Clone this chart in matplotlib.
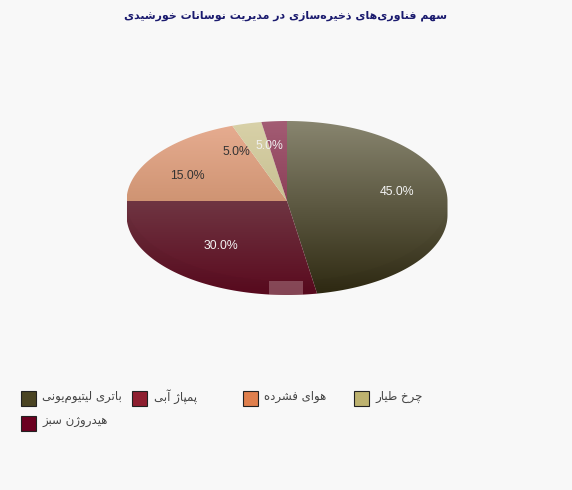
import numpy as np
import matplotlib
matplotlib.use("Agg")
import matplotlib.pyplot as plt
from matplotlib.patches import Polygon, Rectangle
from matplotlib.colors import LinearSegmentedColormap

title = "سهم فناوری‌های ذخیره‌سازی در مدیریت نوسانات خورشیدی"
names = ["باتری لیتیوم‌یونی", "پمپاژ آبی", "هوای فشرده", "چرخ طیار", "هیدروژن سبز"]
shares = [45.0, 30.0, 15.0, 5.0, 5.0]

legend_colors = ["#4a4423", "#8e1f30", "#df7f4d", "#bdb26f", "#6b0020"]
top_colors = ["#88856f", "#6f3542", "#e6ac90", "#d8d1a8", "#a35c74"]
bottom_colors = ["#2f2a12", "#5a0a1e", "#cf9473", "#c8c092", "#8c4058"]
label_colors = ["#f4f4f4", "#f4f4f4", "#333333", "#333333", "#f0f0f0"]

# isolated, final, initial, medial (None = letter does not join forward)
forms = {
    "ا": (0xFE8D, 0xFE8E, None, None), "آ": (0xFE81, 0xFE82, None, None),
    "ب": (0xFE8F, 0xFE90, 0xFE91, 0xFE92), "پ": (0xFB56, 0xFB57, 0xFB58, 0xFB59),
    "ت": (0xFE95, 0xFE96, 0xFE97, 0xFE98), "چ": (0xFB7A, 0xFB7B, 0xFB7C, 0xFB7D),
    "خ": (0xFEA5, 0xFEA6, 0xFEA7, 0xFEA8), "د": (0xFEA9, 0xFEAA, None, None),
    "ذ": (0xFEAB, 0xFEAC, None, None), "ر": (0xFEAD, 0xFEAE, None, None),
    "ز": (0xFEAF, 0xFEB0, None, None), "ژ": (0xFB8A, 0xFB8B, None, None),
    "س": (0xFEB1, 0xFEB2, 0xFEB3, 0xFEB4), "ش": (0xFEB5, 0xFEB6, 0xFEB7, 0xFEB8),
    "ط": (0xFEC1, 0xFEC2, 0xFEC3, 0xFEC4), "ف": (0xFED1, 0xFED2, 0xFED3, 0xFED4),
    "ل": (0xFEDD, 0xFEDE, 0xFEDF, 0xFEE0), "م": (0xFEE1, 0xFEE2, 0xFEE3, 0xFEE4),
    "ن": (0xFEE5, 0xFEE6, 0xFEE7, 0xFEE8), "ه": (0xFEE9, 0xFEEA, 0xFEEB, 0xFEEC),
    "و": (0xFEED, 0xFEEE, None, None), "ی": (0xFBFC, 0xFBFD, 0xFBFE, 0xFBFF),
    "ئ": (0xFE89, 0xFE8A, 0xFE8B, 0xFE8C),
}


def shape(text):
    # matplotlib has no arabic shaping, so pick the joined forms and flip the order
    out = []
    for i, ch in enumerate(text):
        if ch not in forms:
            if ch != "\u200c":
                out.append(ch)
            continue
        prev = text[i - 1] if i > 0 else ""
        nxt = text[i + 1] if i + 1 < len(text) else ""
        joins_prev = prev in forms and forms[prev][2] is not None
        joins_next = nxt in forms and forms[ch][2] is not None
        iso, fin, ini, med = forms[ch]
        if joins_prev and joins_next:
            out.append(chr(med))
        elif joins_prev:
            out.append(chr(fin))
        elif joins_next:
            out.append(chr(ini))
        else:
            out.append(chr(iso))
    return "".join(reversed(out))


bg = "#f8f8f8"
fig = plt.figure(figsize=(5.72, 4.9), dpi=100, facecolor=bg)
ax = fig.add_axes([0, 0, 1, 1])
ax.set_xlim(0, 572)
ax.set_ylim(490, 0)
ax.axis("off")

cx, cy = 287, 201
a, b, depth = 160.5, 80, 14


def outline_radius(theta):
    # distance from the centre to the edge of the extruded ellipse, theta clockwise from top
    s, c = np.sin(theta), -np.cos(theta)  # c is +ve downwards
    r_top = 1 / np.sqrt((s / a) ** 2 + (c / b) ** 2)
    A = (s / a) ** 2 + (c / b) ** 2
    B = -2 * c * depth / b ** 2
    C = (depth / b) ** 2 - 1
    r_low = (-B + np.sqrt(B ** 2 - 4 * A * C)) / (2 * A)
    r = np.maximum(r_top, r_low)
    with np.errstate(divide="ignore", invalid="ignore"):
        r_side = a / np.abs(s)
    side = (c >= 0) & (r_side * c <= depth)
    return np.where(side, r_side, r)


start = 0.0
for share, c0, c1, lab_col in zip(shares, top_colors, bottom_colors, label_colors):
    end = start + share / 100 * 2 * np.pi
    th = np.linspace(start, end, 200)
    r = outline_radius(th)
    xs = cx + r * np.sin(th)
    ys = cy - r * np.cos(th)
    pts = np.vstack([[cx, cy], np.column_stack([xs, ys])])
    y0, y1 = pts[:, 1].min(), pts[:, 1].max()
    cmap = LinearSegmentedColormap.from_list("g", [c0, c1])
    grad = np.linspace(0, 1, 256).reshape(-1, 1)
    im = ax.imshow(grad, cmap=cmap, extent=[pts[:, 0].min(), pts[:, 0].max(), y1, y0],
                   aspect="auto", zorder=2, interpolation="bilinear")
    poly = Polygon(pts, closed=True, fc="none", ec="none", transform=ax.transData)
    ax.add_patch(poly)
    im.set_clip_path(poly)

    mid = (start + end) / 2
    ax.text(cx + 0.695 * a * np.sin(mid), cy - 0.69 * b * np.cos(mid), "%.1f%%" % share,
            color=lab_col, fontsize=8.8, family="Liberation Sans", ha="center", va="center", zorder=5)
    start = end

# rim below the top face, barely darker than the face
t = np.linspace(0, np.pi, 200)
upper = np.column_stack([cx + a * np.cos(t), cy + b * np.sin(t)])
lower = np.column_stack([cx + a * np.cos(t[::-1]), cy + depth + b * np.sin(t[::-1])])
ax.add_patch(Polygon(np.vstack([upper, lower]), closed=True, fc="black", ec="none", alpha=0.025, zorder=3))

# pale patch on the rim at the bottom of the pie
ax.add_patch(Rectangle((269, 281), 34, 14, fc="#c9a0a8", ec="none", alpha=0.4, zorder=4))

ax.set_xlim(0, 572)
ax.set_ylim(490, 0)

ax.text(285, 15.5, shape(title), color="#1a1a6e", fontsize=7.9, fontweight="bold",
        family="DejaVu Sans", ha="center", va="center")

for i, (name, col) in enumerate(zip(names, legend_colors)):
    row, pos = divmod(i, 4)
    x = 20.5 + pos * 111
    y = 390.5 + row * 25
    ax.add_patch(Rectangle((x, y), 15, 15, fc=col, ec="#222222", lw=0.8))
    ax.text(x + 22, y + 6, shape(name), color="#444444", fontsize=8.5,
            family="DejaVu Sans", ha="left", va="center")

fig.savefig("out.png", dpi=100, facecolor=bg)
